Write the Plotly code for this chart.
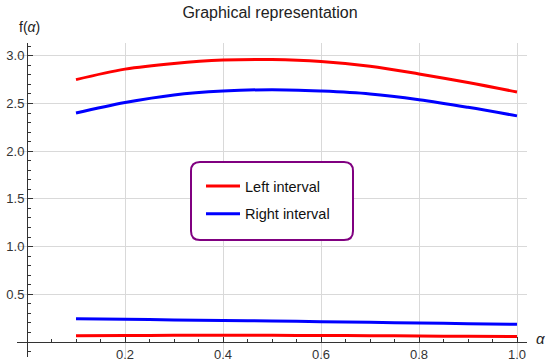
import plotly.graph_objects as go

alpha = [0.1, 0.2, 0.3, 0.4, 0.5, 0.6, 0.7, 0.8, 0.9, 1.0]
left_upper = [2.75, 2.86, 2.92, 2.955, 2.96, 2.94, 2.89, 2.81, 2.72, 2.62]
right_upper = [2.40, 2.51, 2.59, 2.63, 2.645, 2.63, 2.60, 2.54, 2.46, 2.37]
left_lower = [0.065, 0.068, 0.07, 0.07, 0.07, 0.068, 0.066, 0.063, 0.06, 0.057]
right_lower = [0.245, 0.238, 0.232, 0.226, 0.22, 0.213, 0.206, 0.199, 0.192, 0.185]

x_ticks = [0.2, 0.4, 0.6, 0.8, 1.0]
x_labels = ["0.2", "0.4", "0.6", "0.8", "1.0"]
y_ticks = [0.5, 1.0, 1.5, 2.0, 2.5, 3.0]
y_labels = ["0.5", "1.0", "1.5", "2.0", "2.5", "3.0"]

RED = "#FF0000"
BLUE = "#0000FF"
FONT = "Liberation Sans, Arial, sans-serif"

# plot area in pixels
L, R, T, B = 17, 527, 43, 357
W, H = R - L, B - T


def px(x):
    return (x - L) / W


def py(y):
    return (B - y) / H


fig = go.Figure()
fig.add_trace(go.Scatter(x=alpha, y=left_upper, mode="lines", line=dict(color=RED, width=3, shape="spline"),
                         name="Left interval", legendgroup="a"))
fig.add_trace(go.Scatter(x=alpha, y=right_upper, mode="lines", line=dict(color=BLUE, width=3, shape="spline"),
                         name="Right interval", legendgroup="b"))
fig.add_trace(go.Scatter(x=alpha, y=left_lower, mode="lines", line=dict(color=RED, width=3, shape="spline"),
                         showlegend=False, legendgroup="a"))
fig.add_trace(go.Scatter(x=alpha, y=right_lower, mode="lines", line=dict(color=BLUE, width=3, shape="spline"),
                         showlegend=False, legendgroup="b"))

xr = [-0.0204, 1.0204]
yr = [-0.157, 3.134]

fig.update_layout(
    width=550, height=364,
    margin=dict(l=L, r=550 - R, t=T, b=364 - B, autoexpand=False),
    paper_bgcolor="white", plot_bgcolor="white",
    font=dict(family=FONT, size=13, color="#333333"),
    title=dict(text="Graphical representation", x=270 / 550, xanchor="center", y=1 - 12 / 364, yanchor="middle",
               font=dict(size=16, color="#222222"), automargin=False),
    xaxis=dict(range=xr, tickvals=x_ticks, ticktext=x_labels, showgrid=True, gridcolor="#D9D9D9", gridwidth=1,
               zeroline=False, showline=True, linecolor="#333333", linewidth=1, automargin=False,
               anchor="free", position=(0 - yr[0]) / (yr[1] - yr[0]),
               ticks="inside", ticklen=5, tickcolor="#333333",
               minor=dict(dtick=0.05, tick0=0, ticks="inside", ticklen=3, tickcolor="#333333", showgrid=False),
               fixedrange=True),
    yaxis=dict(range=yr, tickvals=y_ticks, ticktext=y_labels, showgrid=True, gridcolor="#D9D9D9", gridwidth=1,
               zeroline=False, showline=True, linecolor="#333333", linewidth=1, automargin=False,
               anchor="free", position=(0 - xr[0]) / (xr[1] - xr[0]),
               ticks="inside", ticklen=5, tickcolor="#333333",
               minor=dict(dtick=0.1, tick0=0, ticks="inside", ticklen=3, tickcolor="#333333", showgrid=False),
               fixedrange=True),
    legend=dict(x=px(201), y=py(170), xanchor="left", yanchor="top",
                bgcolor="rgba(255,255,255,0)", borderwidth=0, font=dict(size=14.5, color="#111111"),
                traceorder="grouped", tracegroupgap=6, itemwidth=34),
    showlegend=True,
)

# rounded legend frame
x0, x1 = px(191), px(353)
y0, y1 = py(240), py(162)
rx, ry = 9 / W, 9 / H
path = (f"M {x0+rx},{y0} L {x1-rx},{y0} Q {x1},{y0} {x1},{y0+ry} L {x1},{y1-ry} Q {x1},{y1} {x1-rx},{y1} "
        f"L {x0+rx},{y1} Q {x0},{y1} {x0},{y1-ry} L {x0},{y0+ry} Q {x0},{y0} {x0+rx},{y0} Z")
fig.add_shape(type="path", path=path, xref="paper", yref="paper", line=dict(color="#800080", width=2),
              fillcolor="white", layer="above")

fig.add_annotation(text="f(<i>α</i>)", x=px(17), y=py(27), xref="paper", yref="paper",
                   xanchor="left", yanchor="middle", showarrow=False, font=dict(size=14, color="#222222"))
fig.add_annotation(text="<i>α</i>", x=px(540), y=py(338), xref="paper", yref="paper",
                   xanchor="center", yanchor="middle", showarrow=False, font=dict(size=15, color="#222222"))

fig.write_html("out.html", config={"displayModeBar": False},
               post_script="document.body.style.margin='0';document.body.style.overflow='hidden';")
